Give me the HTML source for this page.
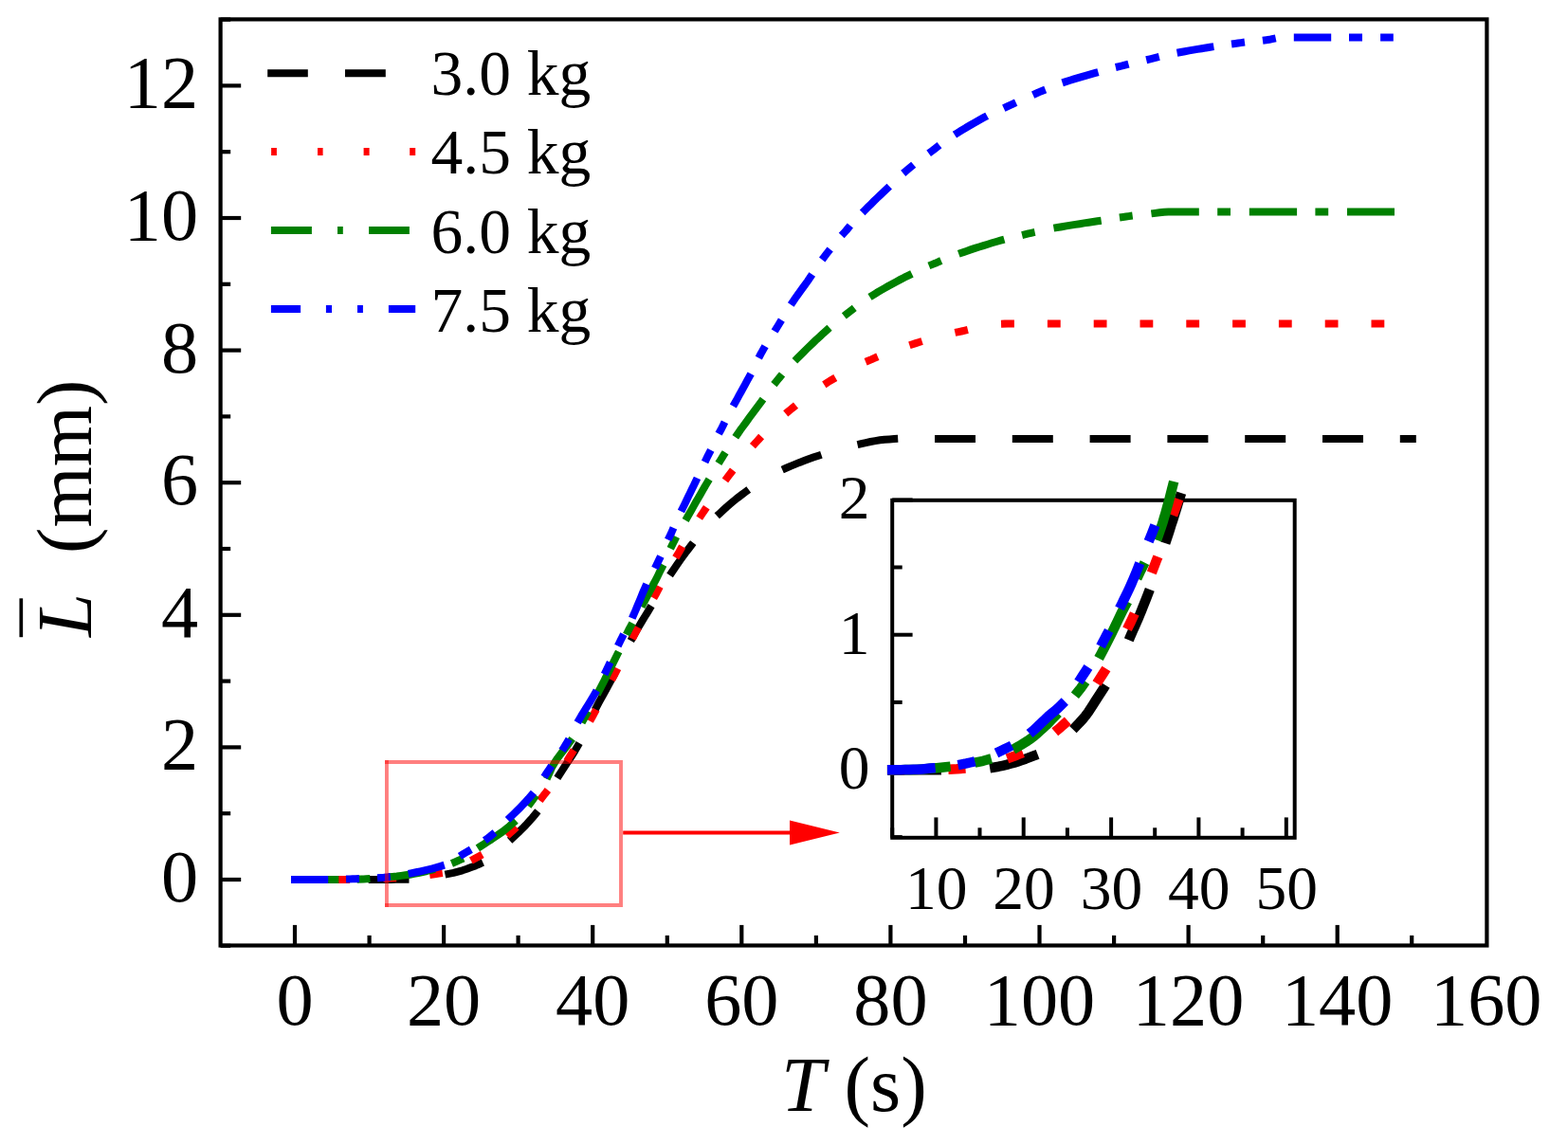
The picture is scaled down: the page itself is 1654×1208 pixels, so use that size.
<!DOCTYPE html>
<html lang="en"><head><meta charset="utf-8"><title>L vs T</title>
<style>html,body{margin:0;padding:0;background:#fff;}body{width:1654px;height:1208px;overflow:hidden;}svg{display:block;}text{font-family:"Liberation Serif","Times New Roman",serif;fill:#000;}</style>
</head><body>
<svg width="1654" height="1208" viewBox="0 0 1654 1208">
<rect x="0" y="0" width="1654" height="1208" fill="#ffffff"/>
<g fill="none" stroke-linecap="square" stroke-linejoin="round" stroke-width="8.0">
<path d="M311.0 928.0L316.0 928.0L321.0 928.0L326.0 928.0L331.0 928.0L336.0 928.0L341.0 928.0L346.0 928.0M392.7 928.0L397.7 928.0L402.7 928.0L407.7 927.9L412.7 927.9L417.6 927.8L422.6 927.7L427.5 927.7M473.4 921.9L478.3 920.9L483.1 919.6L487.8 918.3L492.4 916.8L496.9 915.1L501.4 913.4L505.7 911.5M540.6 884.0L544.1 880.8L547.6 877.5L551.0 874.2L554.5 870.6L558.0 866.8L561.5 862.9L564.8 858.9M590.0 817.5L592.8 813.1L595.6 808.8L598.5 804.4L601.3 800.2L604.0 796.0L606.6 791.8L609.1 787.5M629.4 745.6L631.7 741.2L634.1 736.8L636.5 732.5L639.0 728.1L641.4 723.7L643.8 719.2L646.2 714.8M667.3 672.5L669.7 668.1L672.3 663.7L674.8 659.4L677.4 655.1L679.9 651.0L682.5 646.8L685.0 642.6M708.8 603.6L711.6 599.5L714.3 595.5L717.1 591.5L720.0 587.5L722.8 583.6L725.8 579.7L728.8 575.8M759.2 541.6L762.8 538.3L766.4 535.0L770.1 531.8L774.0 528.5L778.1 525.2L782.3 522.0L786.5 518.9M828.9 494.0L833.7 491.9L838.6 489.9L843.4 487.9L848.3 486.1L853.0 484.3L857.8 482.6L862.6 481.0M908.4 468.2L913.3 467.1L918.3 466.0L923.3 465.1L928.3 464.3L933.2 463.7L938.2 463.4L943.2 463.1M990.0 463.0L995.0 463.0L1000.0 463.0L1005.0 463.0L1010.0 463.0L1015.0 463.0L1020.0 463.0L1025.0 463.0M1071.8 463.0L1076.8 463.0L1081.8 463.0L1086.8 463.0L1091.8 463.0L1096.8 463.0L1101.8 463.0L1106.8 463.0M1153.6 463.0L1158.6 463.0L1163.6 463.0L1168.6 463.0L1173.6 463.0L1178.6 463.0L1183.6 463.0L1188.6 463.0M1235.4 463.0L1240.4 463.0L1245.4 463.0L1250.4 463.0L1255.4 463.0L1260.4 463.0L1265.4 463.0L1270.4 463.0M1317.2 463.0L1322.2 463.0L1327.2 463.0L1332.2 463.0L1337.2 463.0L1342.2 463.0L1347.2 463.0L1352.2 463.0M1399.0 463.0L1404.0 463.0L1409.0 463.0L1414.0 463.0L1419.0 463.0L1424.0 463.0L1429.0 463.0L1434.0 463.0M1480.8 463.0L1485.3 463.0L1489.8 463.0" stroke="#000000"/>
<path d="M311.0 928.0L313.9 928.0L316.7 928.0M359.3 928.0L362.2 928.0L365.1 928.0M408.3 926.6L411.2 926.4L414.1 926.3M457.2 922.4L460.0 922.0L462.8 921.6M500.4 906.1L502.8 904.8L505.2 903.5M537.7 879.2L539.7 877.4L541.9 875.3M571.7 841.5L573.5 839.1L575.4 836.7M600.0 799.8L601.5 797.3L603.1 794.8M624.2 757.2L625.6 754.7L627.0 752.1M647.0 713.9L648.4 711.3L649.7 708.8M668.8 670.5L670.1 667.9L671.4 665.4M691.4 627.5L692.8 625.0L694.1 622.5M714.8 585.0L716.3 582.5L717.7 580.0M739.9 543.3L741.5 540.9L743.1 538.5M767.3 503.7L769.0 501.4L770.7 499.2M796.6 467.7L798.5 465.6L800.4 463.5M831.8 433.9L834.1 432.0L836.4 430.1M872.7 403.6L875.2 402.0L877.8 400.5M916.8 380.2L919.5 379.1L922.2 377.9M963.2 363.0L966.0 362.1L968.8 361.2M1011.3 350.1L1014.1 349.5L1017.0 348.8M1060.0 341.5L1063.0 341.4L1065.9 341.4M1108.9 341.4L1111.8 341.4L1114.7 341.4M1157.7 341.4L1160.6 341.4L1163.5 341.4M1206.5 341.4L1209.4 341.4L1212.3 341.4M1255.3 341.4L1258.2 341.4L1261.1 341.4M1304.1 341.4L1307.0 341.4L1309.9 341.4M1352.9 341.4L1355.8 341.4L1358.7 341.4M1401.7 341.4L1404.6 341.4L1407.5 341.4M1450.5 341.4L1453.4 341.4L1456.3 341.4" stroke="#ff0000"/>
<path d="M311.0 928.0L315.7 928.0L320.4 928.0L325.1 928.0L329.8 928.0L334.5 928.0L339.2 928.0L343.9 928.0L348.6 928.0L353.3 928.0M380.6 927.5L383.5 927.4L386.4 927.2M414.0 924.9L418.6 924.5L423.2 923.9L427.7 923.3L432.3 922.7L436.8 921.9L441.3 921.0L445.8 920.0L450.3 919.0L454.8 917.8M480.1 909.4L482.7 908.3L485.2 907.2M507.2 892.7L510.9 890.3L514.6 887.9L518.4 885.5L522.1 883.0L525.9 880.4L529.9 877.6L533.7 874.6L537.5 871.5L541.1 868.3M559.6 847.1L561.4 844.7L563.1 842.3M578.3 818.1L580.3 813.8L582.2 809.5L584.6 805.4L587.1 801.4L589.9 797.6L592.8 793.8L595.7 790.1L598.6 786.3L601.4 782.5M615.6 758.9L617.0 756.3L618.4 753.8M631.7 729.1L633.9 724.9L636.1 720.7L638.2 716.4L640.4 712.2L642.5 708.0L644.6 703.7L646.7 699.5L648.8 695.2L650.9 691.0M662.5 666.0L663.8 663.4L665.2 660.8M678.6 636.6L680.8 632.5L683.0 628.3L685.2 624.2L687.4 620.1L689.5 615.9L691.7 611.8L693.8 607.7L695.8 603.6L697.9 599.5M709.0 575.1L710.3 572.5L711.6 569.9M725.1 545.6L727.4 541.6L729.7 537.5L732.0 533.4L734.3 529.3L736.7 525.2L739.0 521.2L741.4 517.1L743.7 513.0L746.1 509.0M760.0 485.5L761.5 483.1L763.0 480.7M778.0 458.0L780.6 454.2L783.3 450.5L786.0 446.8L788.7 443.1L791.4 439.3L794.2 435.6L797.0 431.8L799.8 428.1L802.6 424.3M818.9 402.5L820.7 400.3L822.5 398.1M841.2 377.9L844.5 374.6L847.8 371.3L851.1 368.0L854.4 364.8L857.9 361.5L861.3 358.2L864.9 355.0L868.4 351.7L872.0 348.5M893.5 330.9L895.8 329.1L898.1 327.3M920.9 311.3L924.9 308.8L929.0 306.4L933.0 304.1L937.1 301.7L941.3 299.4L945.5 297.2L949.8 294.9L954.0 292.7L958.3 290.6M983.6 278.9L986.4 277.8L989.1 276.6M1015.0 266.5L1019.5 264.9L1023.9 263.4L1028.4 261.9L1032.9 260.5L1037.4 259.1L1041.9 257.7L1046.4 256.3L1050.9 255.0L1055.5 253.7M1082.0 247.1L1084.9 246.4L1087.7 245.8M1115.4 240.0L1120.1 239.2L1124.8 238.4L1129.5 237.6L1134.2 236.9L1138.9 236.2L1143.6 235.4L1148.3 234.7L1153.0 234.0L1157.7 233.3M1184.9 228.9L1187.8 228.5L1190.7 228.1M1218.4 224.9L1223.1 224.3L1227.8 223.7L1232.5 223.5L1237.2 223.5L1241.9 223.5L1246.6 223.5L1251.3 223.5L1256.1 223.5L1260.8 223.5M1288.2 223.5L1291.1 223.5L1294.0 223.5M1321.8 223.5L1326.5 223.5L1331.2 223.5L1335.9 223.5L1340.6 223.5L1345.3 223.5L1350.0 223.5L1354.7 223.5L1359.4 223.5L1364.1 223.5M1391.4 223.5L1394.3 223.5L1397.2 223.5M1425.0 223.5L1429.7 223.5L1434.3 223.5L1439.0 223.5L1443.7 223.5L1448.3 223.5L1453.0 223.5L1457.7 223.5L1462.3 223.5L1467.0 223.5" stroke="#008000"/>
<path d="M311.0 928.0L315.5 928.0L319.9 928.0L324.4 928.0L328.8 928.0L333.3 928.0L337.7 928.0L342.2 928.0M369.0 927.4L372.0 927.3L375.0 927.2M402.0 926.0L405.0 925.8L407.9 925.5M434.6 921.1L438.9 920.3L443.3 919.4L447.7 918.4L452.0 917.4L456.3 916.3L460.6 915.1L464.9 913.8M488.4 901.2L491.0 899.6L493.4 898.2M514.5 884.3L516.7 882.6L518.9 880.8M538.4 862.1L541.6 859.0L544.8 855.9L547.9 852.8L551.1 849.5L554.2 846.2L557.3 842.8L560.3 839.3M576.1 816.5L577.8 813.9L579.5 811.4M595.0 788.5L596.6 785.9L598.2 783.2M611.1 758.9L613.4 754.9L615.8 751.0L618.2 747.2L620.6 743.4L622.9 739.6L625.2 735.7L627.4 731.9M639.3 707.9L640.6 705.1L641.9 702.4M653.5 678.0L654.8 675.3L656.1 672.7M668.4 648.6L670.2 644.5L671.9 640.4L673.6 636.3L675.3 632.2L677.0 628.0L678.7 623.9L680.5 619.8M692.6 595.9L693.9 593.2L695.2 590.5M706.4 566.0L707.7 563.3L708.9 560.5M720.2 536.0L722.2 532.0L724.1 528.0L726.0 524.0L728.0 520.0L729.9 516.0L731.9 512.0L733.8 508.0M745.3 483.8L746.6 481.1L748.0 478.4M760.0 454.2L761.4 451.6L762.7 448.9M775.3 425.0L777.5 421.1L779.6 417.2L781.8 413.3L783.9 409.4L786.0 405.6L788.1 401.7L790.2 397.8M802.2 374.0L803.6 371.4L805.1 368.8M819.2 346.1L820.8 343.5L822.3 341.0M836.5 318.2L839.0 314.5L841.6 310.9L844.2 307.2L846.8 303.6L849.4 300.1L852.0 296.5L854.5 292.8M869.6 270.8L871.4 268.4L873.2 266.1M890.4 245.6L892.4 243.4L894.3 241.1M912.5 221.5L915.6 218.4L918.8 215.3L921.9 212.2L925.2 209.0L928.5 205.8L931.9 202.6L935.3 199.4M955.8 180.3L958.2 178.3L960.6 176.3M982.9 159.4L985.4 157.6L987.8 155.7M1010.3 140.1L1014.1 137.7L1018.0 135.3L1021.9 133.0L1025.8 130.7L1029.8 128.5L1033.7 126.3L1037.7 124.1M1062.4 112.4L1065.2 111.1L1068.0 109.8M1093.3 98.4L1096.2 97.1L1099.0 96.0M1124.4 86.1L1128.7 84.7L1133.0 83.4L1137.3 82.1L1141.6 80.8L1146.0 79.6L1150.3 78.4L1154.6 77.2M1180.7 70.1L1183.7 69.4L1186.6 68.6M1213.1 62.3L1216.0 61.6L1218.9 60.9M1245.5 55.0L1249.9 54.2L1254.3 53.4L1258.8 52.6L1263.2 51.9L1267.6 51.2L1272.0 50.5L1276.4 49.8M1303.0 45.9L1306.0 45.5L1309.0 45.1M1335.9 42.2L1338.9 41.8L1341.8 41.2M1368.8 39.5L1373.3 39.5L1377.8 39.5L1382.3 39.5L1386.8 39.5L1391.2 39.5L1395.7 39.5L1400.2 39.5M1427.0 39.5L1430.0 39.5L1433.0 39.5M1460.1 39.5L1462.9 39.5L1465.8 39.5" stroke="#0000ff"/>
</g>
<g fill="none" stroke="#000" stroke-width="4.2" stroke-linecap="butt">
<rect x="232.6" y="20.4" width="1335.8" height="977.1"/>
<line x1="232.6" y1="997.8" x2="243.2" y2="997.8"/>
<line x1="232.6" y1="928.0" x2="254.2" y2="928.0"/>
<line x1="232.6" y1="858.2" x2="243.2" y2="858.2"/>
<line x1="232.6" y1="788.4" x2="254.2" y2="788.4"/>
<line x1="232.6" y1="718.6" x2="243.2" y2="718.6"/>
<line x1="232.6" y1="648.8" x2="254.2" y2="648.8"/>
<line x1="232.6" y1="579.0" x2="243.2" y2="579.0"/>
<line x1="232.6" y1="509.2" x2="254.2" y2="509.2"/>
<line x1="232.6" y1="439.4" x2="243.2" y2="439.4"/>
<line x1="232.6" y1="369.6" x2="254.2" y2="369.6"/>
<line x1="232.6" y1="299.8" x2="243.2" y2="299.8"/>
<line x1="232.6" y1="230.0" x2="254.2" y2="230.0"/>
<line x1="232.6" y1="160.2" x2="243.2" y2="160.2"/>
<line x1="232.6" y1="90.4" x2="254.2" y2="90.4"/>
<line x1="232.6" y1="20.6" x2="243.2" y2="20.6"/>
<line x1="311.0" y1="997.5" x2="311.0" y2="975.9"/>
<line x1="389.6" y1="997.5" x2="389.6" y2="986.9"/>
<line x1="468.1" y1="997.5" x2="468.1" y2="975.9"/>
<line x1="546.6" y1="997.5" x2="546.6" y2="986.9"/>
<line x1="625.2" y1="997.5" x2="625.2" y2="975.9"/>
<line x1="703.8" y1="997.5" x2="703.8" y2="986.9"/>
<line x1="782.3" y1="997.5" x2="782.3" y2="975.9"/>
<line x1="860.9" y1="997.5" x2="860.9" y2="986.9"/>
<line x1="939.4" y1="997.5" x2="939.4" y2="975.9"/>
<line x1="1018.0" y1="997.5" x2="1018.0" y2="986.9"/>
<line x1="1096.5" y1="997.5" x2="1096.5" y2="975.9"/>
<line x1="1175.1" y1="997.5" x2="1175.1" y2="986.9"/>
<line x1="1253.6" y1="997.5" x2="1253.6" y2="975.9"/>
<line x1="1332.2" y1="997.5" x2="1332.2" y2="986.9"/>
<line x1="1410.7" y1="997.5" x2="1410.7" y2="975.9"/>
<line x1="1489.2" y1="997.5" x2="1489.2" y2="986.9"/>
</g>
<g font-size="78.3" text-anchor="end">
<text x="209.1" y="951.0">0</text>
<text x="209.1" y="811.4">2</text>
<text x="209.1" y="671.8">4</text>
<text x="209.1" y="532.2">6</text>
<text x="209.1" y="392.6">8</text>
<text x="209.1" y="253.0">10</text>
<text x="209.1" y="113.4">12</text>
</g>
<g font-size="78.3" text-anchor="middle">
<text x="311.0" y="1080.5">0</text>
<text x="468.1" y="1080.5">20</text>
<text x="625.2" y="1080.5">40</text>
<text x="782.3" y="1080.5">60</text>
<text x="939.4" y="1080.5">80</text>
<text x="1096.5" y="1080.5">100</text>
<text x="1253.6" y="1080.5">120</text>
<text x="1410.7" y="1080.5">140</text>
<text x="1567.8" y="1080.5">160</text>
</g>
<text x="900.8" y="1172.2" font-size="82.6" text-anchor="middle"><tspan font-style="italic">T</tspan> (s)</text>
<g transform="translate(96.3,0) rotate(-90)" font-size="82.6">
<text x="-672.0" y="0" font-style="italic">L</text>
<text x="-584.0" y="0">(mm)</text>
</g>
<line x1="22.3" y1="631.3" x2="22.3" y2="672.2" stroke="#000" stroke-width="3.7"/>
<g font-size="67.5">
<text x="454.5" y="100.1">3.0 kg</text>
<text x="454.5" y="183.1">4.5 kg</text>
<text x="454.5" y="266.7">6.0 kg</text>
<text x="454.5" y="349.6">7.5 kg</text>
</g>
<g fill="none" stroke-width="8">
<path d="M282.2 77.2H324.8M364 77.2H406.8" stroke="#000"/>
<path d="M286.1 160H291.9M335 160H340.6M383.6 160H389.6M432.2 160H438.2" stroke="#f00"/>
<path d="M285.9 243.1H328.9M356 243.1H361.8M389.1 243.1H431.9" stroke="#008000"/>
<path d="M285.9 326H317.1M343.9 326H350M377 326H382.9M409.9 326H438.2" stroke="#00f"/>
</g>
<g fill="none" stroke="#000" stroke-width="4.0" stroke-linecap="butt">
<rect x="941.2" y="527.8" width="424.5" height="356.0"/>
<line x1="941.2" y1="883.1" x2="951.7" y2="883.1"/>
<line x1="941.2" y1="812.0" x2="962.6" y2="812.0"/>
<line x1="941.2" y1="740.9" x2="951.7" y2="740.9"/>
<line x1="941.2" y1="669.7" x2="962.6" y2="669.7"/>
<line x1="941.2" y1="598.5" x2="951.7" y2="598.5"/>
<line x1="941.2" y1="527.4" x2="962.6" y2="527.4"/>
<line x1="941.2" y1="883.8" x2="941.2" y2="873.3"/>
<line x1="987.4" y1="883.8" x2="987.4" y2="862.4"/>
<line x1="1033.5" y1="883.8" x2="1033.5" y2="873.3"/>
<line x1="1079.7" y1="883.8" x2="1079.7" y2="862.4"/>
<line x1="1125.9" y1="883.8" x2="1125.9" y2="873.3"/>
<line x1="1172.1" y1="883.8" x2="1172.1" y2="862.4"/>
<line x1="1218.2" y1="883.8" x2="1218.2" y2="873.3"/>
<line x1="1264.4" y1="883.8" x2="1264.4" y2="862.4"/>
<line x1="1310.6" y1="883.8" x2="1310.6" y2="873.3"/>
<line x1="1356.8" y1="883.8" x2="1356.8" y2="862.4"/>
</g>
<g fill="none" stroke-linecap="square" stroke-linejoin="round" stroke-width="10.5">
<path d="M941.2 812.3L945.9 812.3L950.5 812.3L955.2 812.3L959.8 812.3L964.5 812.3L969.1 812.3L973.8 812.3L978.4 812.3L983.1 812.3L987.7 812.3M1049.3 809.4L1053.4 808.7L1057.6 807.8L1061.7 806.9L1065.8 805.8L1069.8 804.7L1073.8 803.4L1077.8 802.1L1081.8 800.7L1085.8 799.2L1089.7 797.7M1135.5 765.8L1138.8 762.4L1142.0 758.9L1145.0 755.2L1147.9 751.4L1150.5 747.4L1153.1 743.4L1155.6 739.4L1158.2 735.4L1160.8 731.4L1163.4 727.4M1192.8 670.4L1194.7 666.0L1196.7 661.6L1198.6 657.2L1200.5 652.8L1202.3 648.4L1204.1 644.1L1205.8 639.8L1207.5 635.5L1209.2 631.2L1210.9 626.8M1230.9 568.2L1232.5 563.4L1234.0 558.6L1235.5 553.8L1237.1 549.0L1238.6 544.2L1240.1 539.4L1241.6 534.6L1243.0 529.9L1244.5 525.1" stroke="#000000"/>
<path d="M941.2 812.3L945.0 812.3L948.9 812.3M1005.6 811.4L1009.4 811.2L1013.2 810.9M1067.4 798.6L1070.9 797.3L1074.1 796.0M1116.8 768.9L1119.4 766.7L1122.4 764.0M1159.8 716.6L1162.0 713.2L1164.1 709.9M1191.3 659.1L1193.0 655.6L1194.6 652.1M1216.7 599.4L1218.1 595.8L1219.5 592.2M1238.9 538.7L1240.2 535.1L1241.5 531.5" stroke="#ff0000"/>
<path d="M941.2 812.3L945.9 812.3L950.6 812.2L955.3 812.1L960.0 812.0L964.7 811.9L969.3 811.7L974.0 811.4L978.7 811.0L983.4 810.6L988.0 810.2L992.7 809.7L997.4 809.2M1033.3 803.6L1037.0 802.8L1040.6 801.8M1073.2 788.1L1076.9 786.0L1080.5 783.8L1084.1 781.5L1087.5 779.1L1090.9 776.5L1094.1 773.7L1097.3 770.9L1100.4 768.1L1103.5 765.2L1106.5 762.2L1109.4 759.2L1112.4 756.1M1137.2 729.6L1139.7 726.5L1142.0 723.2M1161.5 689.9L1163.7 685.7L1165.9 681.5L1168.0 677.3L1170.2 673.1L1172.3 668.9L1174.3 664.7L1176.4 660.4L1178.4 656.1L1180.4 651.9L1182.5 647.6L1184.6 643.4L1186.8 639.3M1201.6 605.4L1203.3 601.8L1205.1 598.3M1221.9 564.7L1223.5 560.1L1225.1 555.5L1226.6 550.8L1228.0 546.1L1229.4 541.4L1230.7 536.7L1232.0 532.0L1233.3 527.3L1234.5 522.6L1235.7 517.8L1236.9 513.1" stroke="#008000"/>
<path d="M941.2 812.3L945.7 812.3L950.1 812.2L954.6 812.1L959.1 812.0L963.6 811.8L968.0 811.7L972.5 811.4L977.0 811.0L981.4 810.6M1015.7 806.1L1019.5 805.4L1023.3 804.5M1055.7 792.2L1059.2 790.5L1062.5 788.9M1090.0 770.6L1093.2 767.8L1096.2 764.8L1099.3 761.9L1102.4 758.9L1105.6 755.9L1109.2 752.9L1112.7 749.9L1116.2 746.9L1119.5 743.7M1140.6 715.1L1142.8 711.7L1145.0 708.3M1163.5 677.2L1165.4 673.6L1167.3 670.0M1183.3 637.2L1185.4 632.9L1187.5 628.7L1189.5 624.5L1191.5 620.2L1193.4 616.0L1195.2 611.8L1197.0 607.6L1198.7 603.4L1200.4 599.1M1213.6 566.4L1215.1 562.7L1216.5 559.1" stroke="#0000ff"/>
</g>
<g font-size="65.5" text-anchor="middle">
<text x="987.8" y="959.0">10</text>
<text x="1080.1" y="959.0">20</text>
<text x="1172.5" y="959.0">30</text>
<text x="1264.8" y="959.0">40</text>
<text x="1357.2" y="959.0">50</text>
</g>
<g font-size="65.5" text-anchor="end">
<text x="917.5" y="832.0">0</text>
<text x="917.5" y="689.7">1</text>
<text x="917.5" y="547.4">2</text>
</g>
<g fill="none" stroke="#ff0000" stroke-opacity="0.5" stroke-width="3.9" stroke-linecap="square">
<path d="M407.95 804H655V955H407.95"/>
<path d="M407.95 804V955"/>
</g>
<line x1="657.2" y1="878.5" x2="840" y2="878.5" stroke="#ff0000" stroke-width="3.8"/>
<path d="M833 865.4L885.8 878.5L833 891.6Z" fill="#ff0000"/>
</svg>
</body></html>
